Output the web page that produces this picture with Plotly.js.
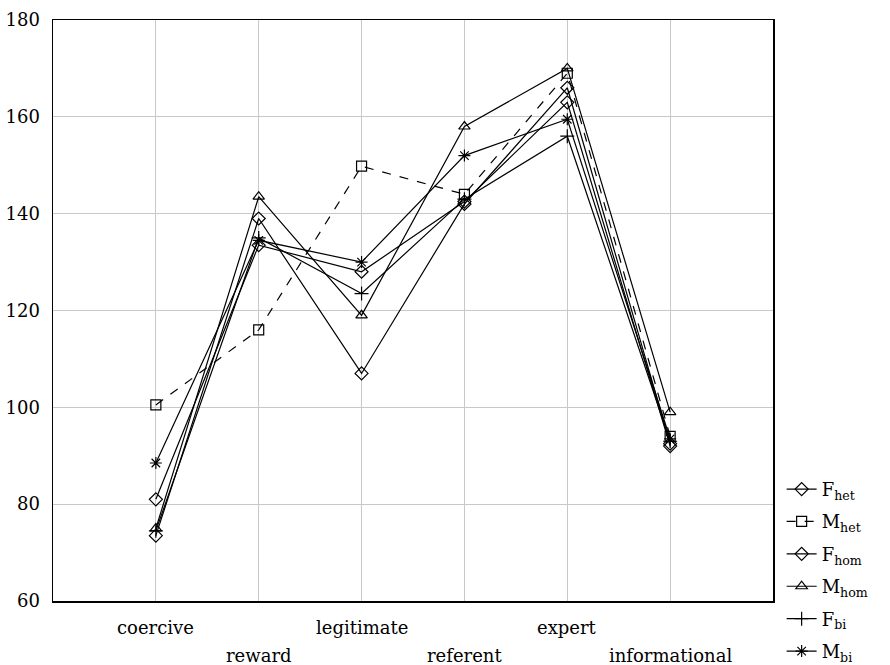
<!DOCTYPE html>
<html>
<head>
<meta charset="utf-8">
<script src="https://cdn.plot.ly/plotly-3.0.1.min.js"></script>
<style>html,body{margin:0;padding:0;background:#fff;}#chart{width:890px;height:665px;}</style>
</head>
<body>
<div id="chart"></div>
<script>
var categories = ["coercive", "reward", "legitimate", "referent", "expert", "informational"];
var seriesNames = ["F<sub>het</sub>", "M<sub>het</sub>", "F<sub>hom</sub>", "M<sub>hom</sub>", "F<sub>bi</sub>", "M<sub>bi</sub>"];
var F_het = [81, 133.5, 128, 142.5, 163, 92];
var M_het = [100.5, 116, 149.8, 144, 169, 94];
var F_hom = [73.5, 139, 107, 142, 166, 92.5];
var M_hom = [75, 143.5, 119, 158, 170, 99];
var F_bi  = [74.5, 135, 123.5, 143, 156, 93];
var M_bi  = [88.5, 134.5, 130, 152, 159.5, 93.5];
var yTicks = [60, 80, 100, 120, 140, 160, 180];

var allValues = [F_het, M_het, F_hom, M_hom, F_bi, M_bi];
var symbols = ["diamond-open", "square-open", "diamond-open", "triangle-up-open", "cross-thin-open", "asterisk-open"];
var dashes = ["solid", "dash", "solid", "solid", "solid", "solid"];
var idx = categories.map(function (c, i) { return i; });
var FONT = "DejaVu Serif";

var traces = allValues.map(function (vals, k) {
  return {
    type: "scatter",
    mode: "lines+markers",
    name: seriesNames[k],
    legendgroup: "g" + k,
    x: idx,
    y: vals,
    line: { color: "#000", width: 1.2, dash: dashes[k] },
    marker: { symbol: symbols[k], size: 10, color: "#000", line: { color: "#000", width: 1.2 } }
  };
});

var annotations = categories.map(function (c, i) {
  return {
    x: i, xref: "x", y: 0, yref: "paper",
    text: c, showarrow: false,
    xanchor: "center", yanchor: "middle",
    yshift: i % 2 === 1 ? -54 : -26,
    font: { family: FONT, size: 18, color: "#000" }
  };
});

var layout = {
  width: 890,
  height: 665,
  margin: { l: 53, r: 117, t: 20, b: 64, autoexpand: false },
  paper_bgcolor: "#fff",
  plot_bgcolor: "#fff",
  font: { family: FONT, size: 18, color: "#000" },
  showlegend: true,
  legend: {
    x: 1.012, xanchor: "left", y: 0.224, yanchor: "top",
    font: { family: FONT, size: 18, color: "#000" },
    bgcolor: "rgba(0,0,0,0)", borderwidth: 0, tracegroupgap: 6
  },
  annotations: annotations,
  xaxis: {
    range: [-1, categories.length],
    tickmode: "array",
    tickvals: idx,
    showticklabels: false,
    showgrid: true, gridcolor: "#c8c8c8", gridwidth: 1,
    zeroline: false,
    showline: true, linecolor: "#000", linewidth: 1.5, mirror: true,
    ticks: ""
  },
  yaxis: {
    range: [60, 180],
    tickmode: "array",
    tickvals: yTicks,
    ticktext: yTicks.map(String),
    showgrid: true, gridcolor: "#c8c8c8", gridwidth: 1,
    zeroline: false,
    showline: true, linecolor: "#000", linewidth: 1.5, mirror: true,
    ticks: "",
    ticklabelstandoff: 8,
    tickfont: { family: FONT, size: 18, color: "#000" }
  }
};

Plotly.newPlot("chart", traces, layout, { displayModeBar: false, staticPlot: true });
</script>
</body>
</html>
